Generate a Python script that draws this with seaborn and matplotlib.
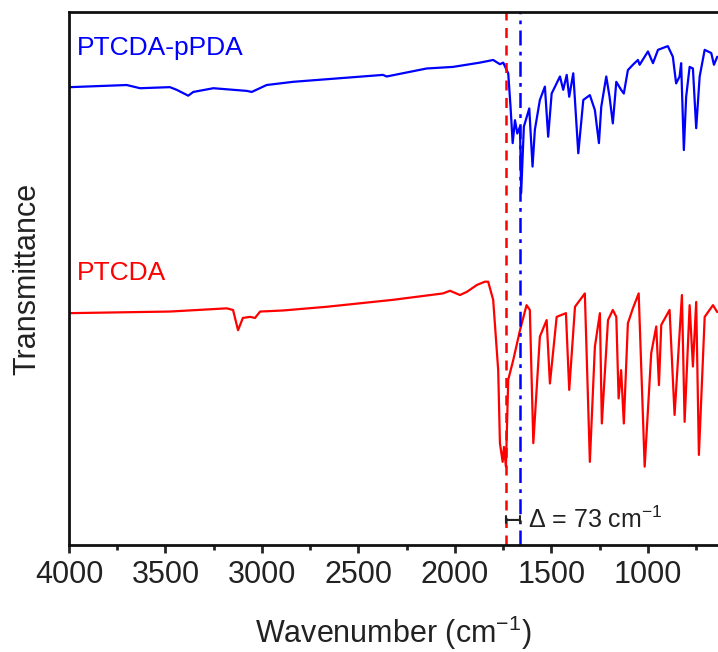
import numpy as np
import pandas as pd
import matplotlib
matplotlib.use("Agg")
import matplotlib.pyplot as plt
import seaborn as sns

# ---------------- data ----------------
pPDA_wn = [3995, 3701, 3632, 3477, 3442, 3382, 3356, 3252, 3079, 3053, 2976, 2839,
           2373, 2354, 2147, 2010, 1871, 1802, 1767, 1750, 1724, 1712, 1701, 1689,
           1677, 1663, 1657, 1643, 1615, 1598, 1586, 1560, 1534, 1517, 1499, 1456,
           1439, 1421, 1408, 1387, 1361, 1335, 1301, 1275, 1254, 1242, 1216, 1199,
           1182, 1164, 1139, 1125, 1104, 1078, 1052, 1043, 1000, 974, 948, 897,
           871, 854, 836, 828, 814, 802, 784, 767, 750, 732, 706, 672, 658, 641]
pPDA_T = [85.9, 86.3, 85.7, 85.9, 85.4, 84.3, 85.0, 85.7, 85.2, 85.0, 86.3, 86.9,
          88.2, 87.9, 89.4, 89.7, 90.5, 91.0, 90.2, 90.5, 88.5, 82.2, 75.4, 79.7,
          77.2, 78.5, 66.0, 78.5, 81.9, 71.0, 77.9, 83.5, 86.0, 76.6, 84.7, 87.9,
          85.4, 88.2, 84.1, 88.5, 73.5, 83.5, 84.4, 81.6, 75.4, 82.2, 87.9, 84.1,
          79.1, 86.9, 85.4, 84.7, 89.1, 90.1, 91.0, 90.1, 92.6, 90.4, 92.9, 93.6,
          91.6, 86.6, 87.9, 90.4, 74.1, 84.1, 89.7, 89.4, 78.2, 87.9, 92.9, 92.3, 90.1, 91.6]

ptcda_wn = [3995, 3477, 3183, 3150, 3124, 3099, 3062, 3036, 3010, 2891, 2663, 2321,
            2062, 2026, 1974, 1938, 1886, 1845, 1828, 1802, 1776, 1767, 1753, 1746,
            1736, 1724, 1698, 1663, 1629, 1612, 1594, 1560, 1525, 1508, 1473, 1425,
            1408, 1378, 1327, 1301, 1275, 1249, 1239, 1207, 1182, 1164, 1152, 1139,
            1125, 1104, 1078, 1048, 1017, 983, 957, 943, 931, 888, 862, 824, 810,
            784, 767, 750, 736, 706, 663, 641]
ptcda_T = [43.5, 43.8, 44.4, 44.1, 40.3, 42.6, 42.8, 42.6, 43.8, 44.0, 44.7, 46.0,
           47.2, 47.7, 46.9, 47.5, 48.8, 49.4, 49.4, 46.0, 32.8, 19.1, 15.6, 18.4,
           14.7, 31.0, 34.7, 40.3, 45.0, 44.1, 19.1, 39.1, 42.2, 30.3, 42.8, 43.5,
           29.1, 44.7, 47.2, 15.6, 37.2, 43.5, 22.8, 42.2, 44.1, 42.8, 27.5, 32.8,
           22.8, 41.6, 44.4, 47.2, 14.7, 36.0, 41.0, 30.0, 41.3, 44.1, 24.4, 46.9, 23.1,
           45.0, 33.5, 45.6, 16.9, 42.8, 45.0, 43.7]

series_names = ["PTCDA-pPDA", "PTCDA"]
series_colors = ["#0000ff", "#ff0000"]
peak_ptcda = 1736      # C=O of PTCDA (red dashed)
peak_ppda = 1663       # C=O of PTCDA-pPDA (blue dash-dot)
delta_label = r"Δ = 73 cm$^{-1}$"
xticks_major = [4000, 3500, 3000, 2500, 2000, 1500, 1000]

df = pd.concat([
    pd.DataFrame({"Wavenumber": pPDA_wn, "T": pPDA_T, "Sample": series_names[0]}),
    pd.DataFrame({"Wavenumber": ptcda_wn, "T": ptcda_T, "Sample": series_names[1]}),
], ignore_index=True)

# ---------------- style ----------------
sns.set_style("ticks")
plt.rcParams["font.family"] = ["Liberation Sans", "DejaVu Sans"]
plt.rcParams["mathtext.fontset"] = "custom"
plt.rcParams["mathtext.rm"] = "Liberation Sans"
plt.rcParams["mathtext.it"] = "Liberation Sans:italic"
plt.rcParams["mathtext.bf"] = "Liberation Sans:bold"

fig = plt.figure(figsize=(7.18, 6.52), dpi=100)
ax = fig.add_axes([69 / 718, 107 / 652, (718 - 69) / 718, 533 / 652])

sns.lineplot(data=df, x="Wavenumber", y="T", hue="Sample",
             palette=dict(zip(series_names, series_colors)),
             linewidth=1.6, legend=False, ax=ax, sort=True, estimator=None)

ax.axvline(peak_ptcda, color="#ff0000", linestyle=(0, (4, 3)), linewidth=1.8)
ax.axvline(peak_ppda, color="#0000ff", linestyle=(0, (6, 2.5, 1.5, 2.5)), linewidth=1.8)

ax.set_xlim(4000, 637)
ax.set_ylim(0, 100)
ax.set_xticks(xticks_major)
ax.set_xticks([3750, 3250, 2750, 2250, 1750, 1250, 750], minor=True)
ax.set_yticks([])

ax.tick_params(axis="x", which="major", direction="out", length=6, width=2,
               labelsize=22, labelcolor="#222222", pad=5)
ax.tick_params(axis="x", which="minor", direction="out", length=3.5, width=2)
for s in ["left", "bottom", "top"]:
    ax.spines[s].set_linewidth(2)
    ax.spines[s].set_color("#111111")
ax.spines["right"].set_visible(False)

ax.set_xlabel("Wavenumber (cm$^{-1}$)", fontsize=22, color="#222222", labelpad=17)
ax.set_ylabel("Transmittance", fontsize=22, color="#222222", labelpad=19)

ax.text(3960, 93.3, series_names[0], color=series_colors[0], fontsize=19,
        va="center", ha="left")
ax.text(3960, 51.0, series_names[1], color=series_colors[1], fontsize=19,
        va="center", ha="left")

ax.annotate("", xy=(peak_ptcda, 4.7), xytext=(peak_ppda, 4.7),
            arrowprops=dict(arrowstyle="|-|,widthA=0.25,widthB=0.25",
                            color="#222222", lw=1.5, shrinkA=0, shrinkB=0))
ax.text(peak_ppda - 40, 4.7, delta_label, fontsize=18, color="#222222",
        va="center", ha="left")

fig.savefig("out.png", dpi=100)
